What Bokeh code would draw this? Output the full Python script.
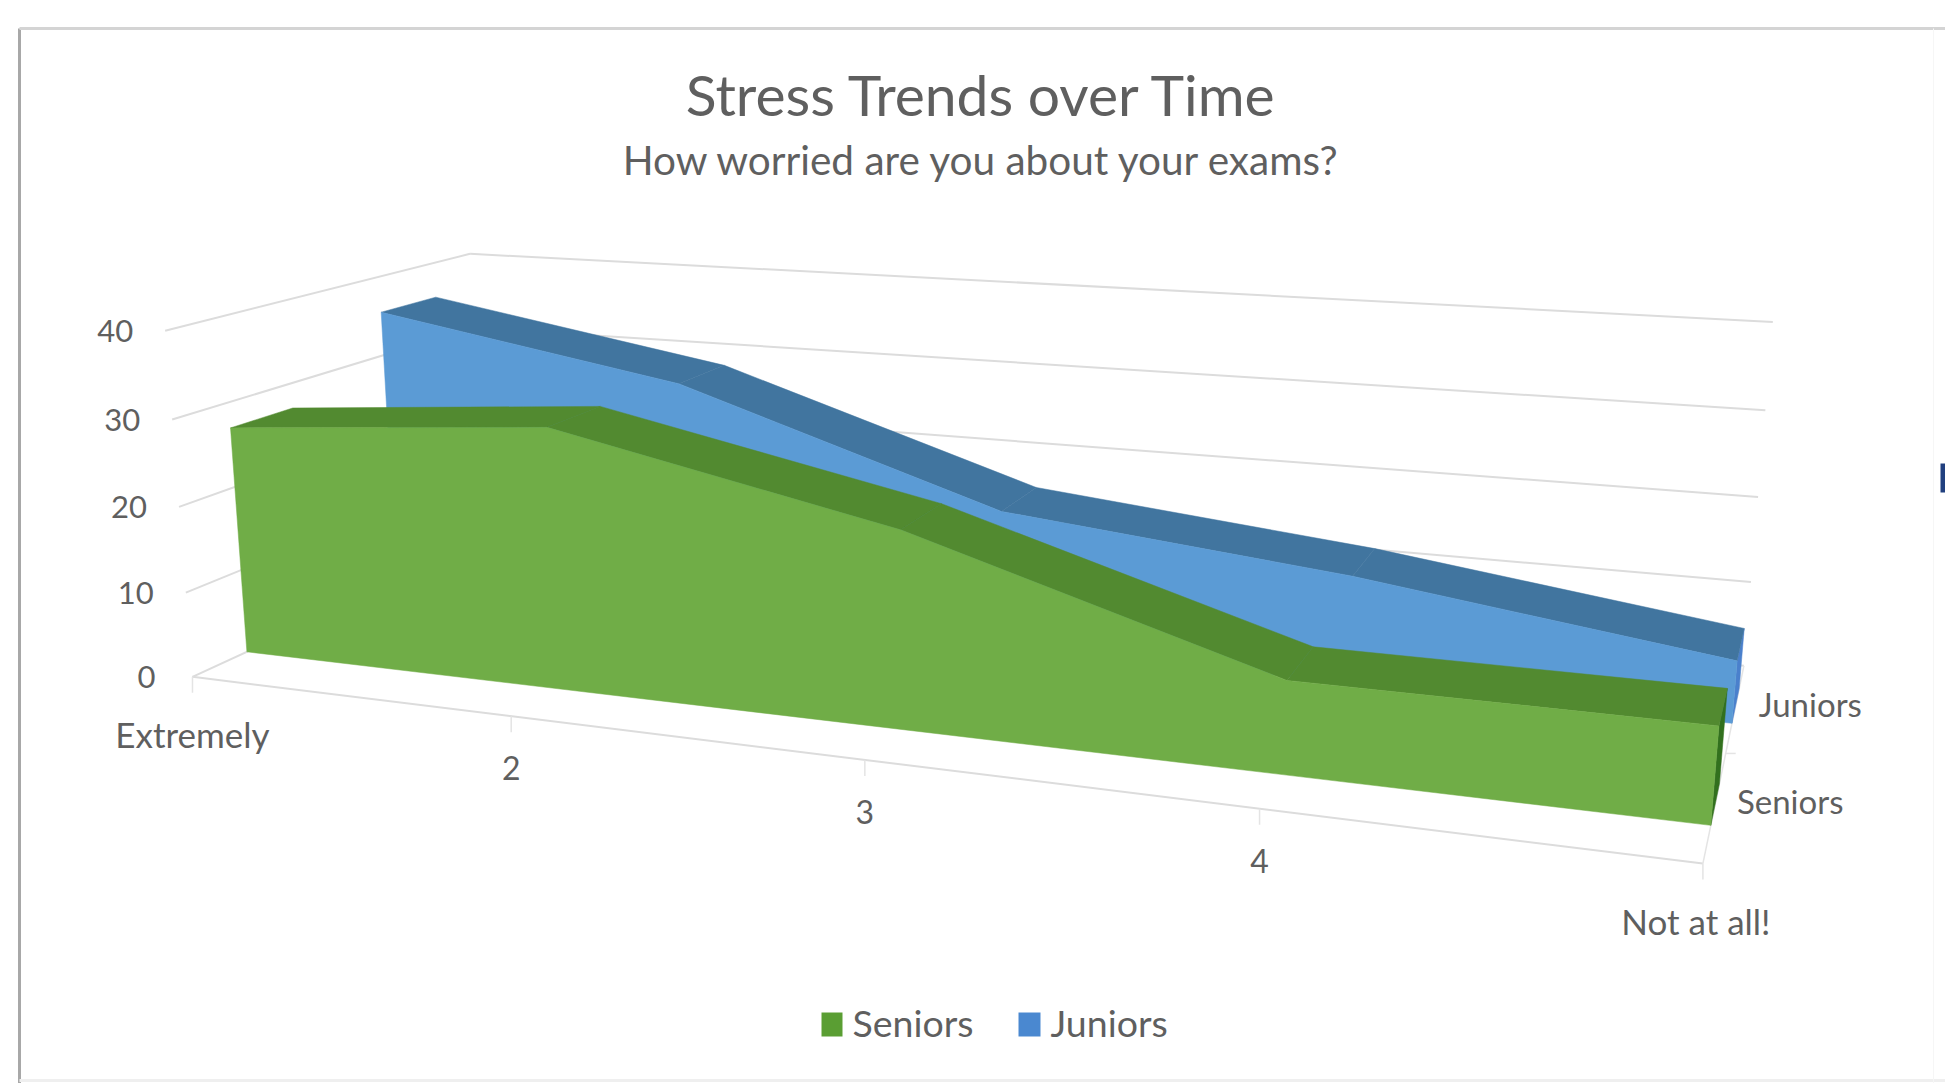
import numpy as np
from bokeh.plotting import figure
from bokeh.models import Range1d
from bokeh.embed import file_html
from bokeh.resources import INLINE
from bokeh.core.properties import value

title_text = "Stress Trends over Time"
subtitle_text = "How worried are you about your exams?"
categories = ["Extremely", "2", "3", "4", "Not at all!"]
series_names = ["Seniors", "Juniors"]
seniors = [27, 30, 22, 10, 10]
juniors = [35.5, 29, 16.5, 12.5, 7]
value_ticks = [0, 10, 20, 30, 40]

# camera calibration: (x fraction, depth fraction, value) -> pixel in the 1568-wide view
cal_3d = [(0,0,0),(0,0,10),(0,0,20),(0,0,30),(0,0,40),
          (.25,0,0),(.5,0,0),(.75,0,0),(1,0,0),
          (0,1,40),(1,1,40),(1,1,30),(1,1,20),(1,1,10),(0,1,0)]
cal_px = [(158,545),(148,477),(143,408),(137,337),(133,266),
          (412,577),(698,612.6),(1014,652),(1372,697),
          (380,205),(1430,260),(1420,330),(1418,400),(1412,467),(388,438)]
K=1945/1568
A=[];b=[]
for (X,D,V),(u,v) in zip(cal_3d,cal_px):
    u*=K; v*=K
    A.append([X,D,V,1,0,0,0,0,-u*X,-u*D,-u*V]); b.append(u)
    A.append([0,0,0,0,X,D,V,1,-v*X,-v*D,-v*V]); b.append(v)
M=np.append(np.linalg.lstsq(np.array(A,float),np.array(b,float),rcond=None)[0],1).reshape(3,4)
def proj(x,d,v):
    r=M@np.array([x,d,v,1.0])
    return r[0]/r[2],r[1]/r[2]

TXT="#5f5f5f"; GRID="#dcdcdc"
p=figure(width=1945,height=1083,output_backend="svg",toolbar_location=None,
         x_range=Range1d(0,1945),y_range=Range1d(1083,0),min_border=0,
         background_fill_color="white",border_fill_color="white",outline_line_color=None)
p.xaxis.visible=False;p.yaxis.visible=False;p.grid.visible=False

def seg(a,b,color=GRID,w=2,alpha=1):
    p.line([a[0],b[0]],[a[1],b[1]],line_color=color,line_width=w,line_alpha=alpha)
def poly(pts,color):
    p.patch([q[0] for q in pts],[q[1] for q in pts],fill_color=color,line_color=color,line_width=0.5)
def txt(x,y,s,size,align="center",color=TXT):
    p.text([x],[y],text=[s],text_font=value("Lato"),text_font_size=f"{size}px",text_color=color,
           text_align=align,text_baseline="middle")

# slide frame
seg((19,1083),(19,28),"#a8a8a8",3)
seg((19,28),(1945,28),"#d4d4d4",3)
seg((19,1080),(1945,1080),"#efefef",3)
seg((1933,28),(1933,1083),"#f6f6f6",1)
p.quad(left=[1940],right=[1945],top=[463],bottom=[492],fill_color="#21407f",line_color=None)

# walls, floor
for v in value_ticks:
    seg(proj(0,0,v),proj(0,1,v)); seg(proj(0,1,v),proj(1,1,v))
seg(proj(0,0,0),proj(1,0,0)); seg(proj(1,0,0),proj(1,1,0),"#e4e4e4",1.5)
xs=[i/(len(categories)-1) for i in range(len(categories))]
for x in xs:
    a=proj(x,0,0); seg(a,(a[0],a[1]+16),"#e4e4e4",1.5)
seg(proj(1,.5,0),(proj(1,.5,0)[0]+10,proj(1,.5,0)[1]),"#e4e4e4",1.5)

def area(vals,d0,d1,front,top,cap):
    poly([proj(1,d0,0),proj(1,d0,vals[-1]),proj(1,d1,vals[-1]),proj(1,d1,0)],cap)
    for i in range(len(vals)-1):
        poly([proj(xs[i],d0,vals[i]),proj(xs[i+1],d0,vals[i+1]),proj(xs[i+1],d1,vals[i+1]),proj(xs[i],d1,vals[i])],top)
    poly([proj(0,d0,0),proj(1,d0,0)]+[proj(x,d0,v) for x,v in zip(xs[::-1],vals[::-1])],front)

area(juniors,0.66,0.86,"#5b9bd5","#41759f","#4a80cc")
area(seniors,0.16,0.35,"#70ad47","#528a30","#32701e")

# texts
txt(982,93,title_text,57)
txt(982,159,subtitle_text,40.5)
for v in value_ticks:
    a=proj(0,0,v); txt(a[0]-(46 if v==0 else 50),a[1],str(v),31)
for i,(x,c) in enumerate(zip(xs,categories)):
    a=proj(x,0,0)
    txt(a[0]-(7 if i==4 else 0),a[1]+(57 if i in(0,4) else 52),c,35 if i in (0,4) else 32)
for name,d in zip(series_names,(0.255,0.75)):
    a=proj(1,d,0); txt(a[0]+75,a[1]-3,name,33)

# legend
for (l,r,c,n,tx) in ((821,842,"#5a9e33",series_names[0],852),(1018,1040,"#4a88d0",series_names[1],1050)):
    p.quad(left=[l],right=[r],top=[1012],bottom=[1036],fill_color=c,line_color=None)
    txt(tx,1022,n,37.5,"left")

open("out.html","w").write(file_html(p,INLINE))
